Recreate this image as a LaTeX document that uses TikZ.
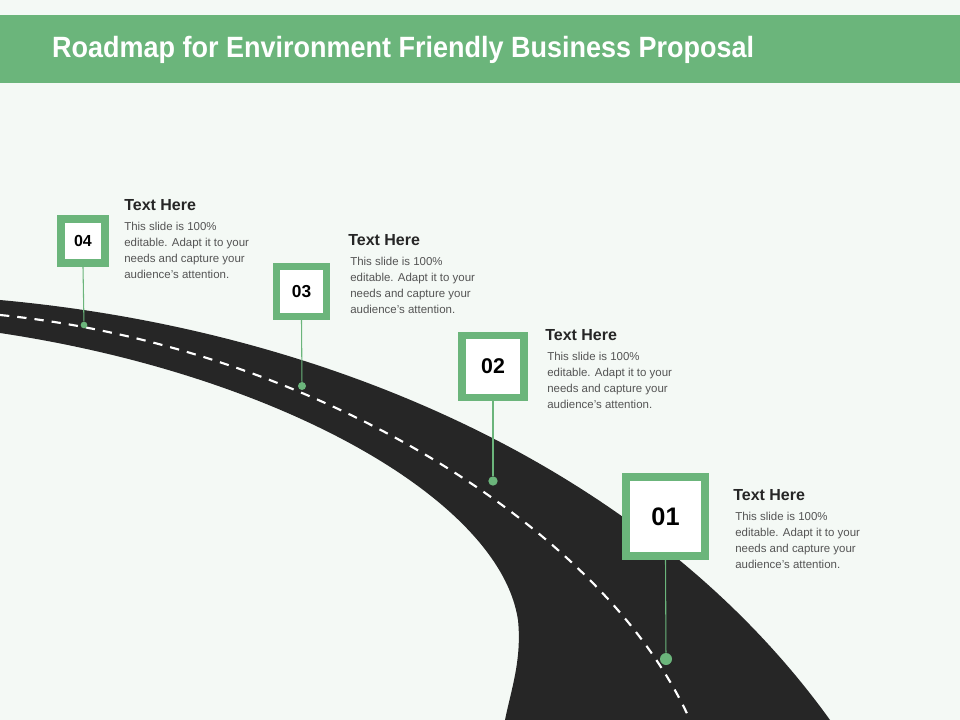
\documentclass[tikz,border=0pt]{standalone}
\usepackage{fontspec}
\setmainfont{Liberation Sans}
\definecolor{bg}{HTML}{F4F9F5}
\definecolor{grn}{HTML}{6BB57B}
\definecolor{road}{HTML}{262626}
\definecolor{txt}{HTML}{555555}
\begin{document}
\begin{tikzpicture}[x=0.75pt,y=-0.75pt,
  numbox/.style={draw=grn,line width=5.5pt,fill=white,inner sep=0pt,font=\bfseries},
  dot/.style={circle,fill=grn,inner sep=0pt,minimum size=#1},
  head/.style={anchor=west,font=\bfseries\fontsize{12}{14}\selectfont,text=black!85,inner sep=0pt},
  body/.style={anchor=north west,align=left,font=\fontsize{8.6}{12}\selectfont,text=txt,inner sep=0pt}]
\useasboundingbox (0,0) rectangle (960,720);
\fill[bg] (0,0) rectangle (960,720);
\fill[grn] (0,15) rectangle (960,83);
\node[anchor=west,text=white,font=\bfseries\fontsize{22}{24}\selectfont,inner sep=0pt,xscale=0.92,transform shape] (title) at (52,50) {Roadmap for Environment Friendly Business Proposal};
% road
\fill[road] (0,300) .. controls (330,330) and (650,470) .. (830,720) -- (505,720) .. controls (511,690) and (522,660) .. (518,620) .. controls (500,500) and (280,375) .. (0,333) -- cycle;
\draw[white,line width=1.6pt,dash pattern=on 7pt off 6pt] (0,315) .. controls (300,345) and (600,520) .. (690,720);
% boxes
\node[numbox,minimum size=44pt/1.33,font=\bfseries\fontsize{12}{14}\selectfont] (b4) at (83,241) {04};
\node[numbox,minimum size=50pt/1.33,font=\bfseries\fontsize{13}{14}\selectfont] (b3) at (301.5,291.5) {03};
\node[numbox,minimum size=62pt/1.33,font=\bfseries\fontsize{16}{18}\selectfont] (b2) at (493,366.5) {02};
\node[numbox,minimum size=79pt/1.33,font=\bfseries\fontsize{19}{22}\selectfont] (b1) at (665.5,516.5) {01};
\node[dot=5pt] (d4) at (84,325) {};
\node[dot=6pt] (d3) at (302,386) {};
\node[dot=7pt] (d2) at (493,481) {};
\node[dot=9pt] (d1) at (666,659) {};
\draw[grn,line width=0.8pt] (b4.south) -- (d4);
\draw[grn,line width=0.8pt] (b3.south) -- (d3);
\draw[grn,line width=0.8pt] (b2.south) -- (d2);
\draw[grn,line width=0.8pt] (b1.south) -- (d1);
% texts
\node[head] (h4) at (124,205) {Text Here};
\node[body] (t4) at (124,222) {This slide is 100\%\\editable. Adapt it to your\\needs and capture your\\audience's attention.};
\node[head] (h3) at (348,240) {Text Here};
\node[body] (t3) at (350,257) {This slide is 100\%\\editable. Adapt it to your\\needs and capture your\\audience's attention.};
\node[head] (h2) at (545,335) {Text Here};
\node[body] (t2) at (547,352) {This slide is 100\%\\editable. Adapt it to your\\needs and capture your\\audience's attention.};
\node[head] (h1) at (733,495) {Text Here};
\node[body] (t1) at (735,512) {This slide is 100\%\\editable. Adapt it to your\\needs and capture your\\audience's attention.};
\end{tikzpicture}
\end{document}
